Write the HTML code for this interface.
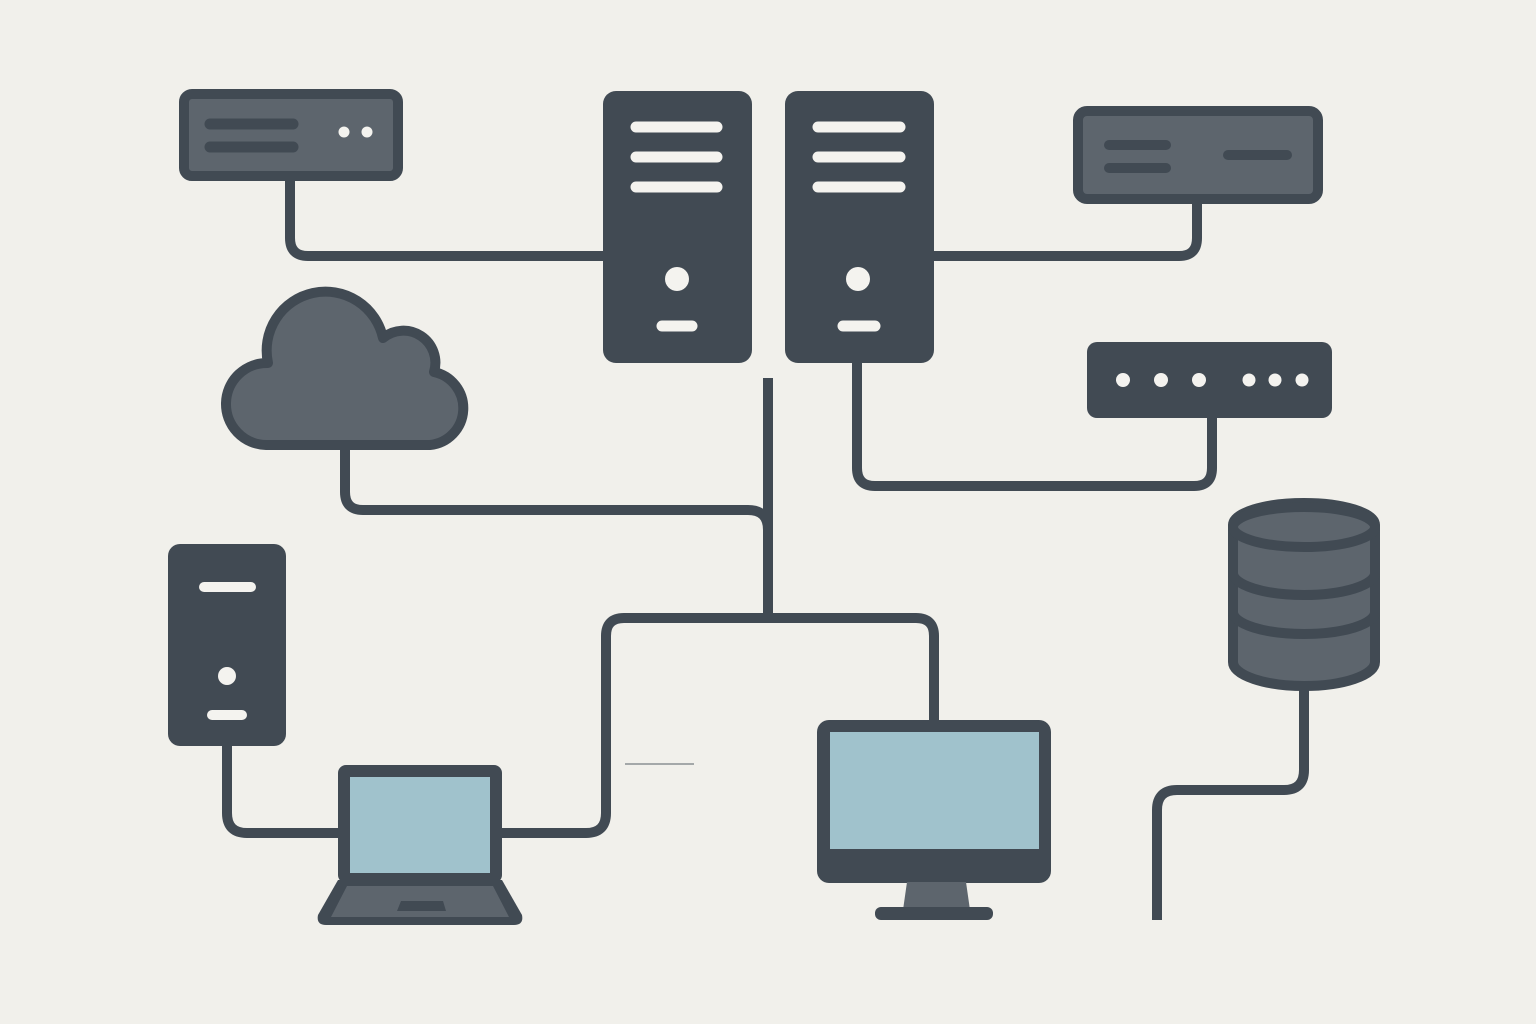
<!DOCTYPE html>
<html><head><meta charset="utf-8"><style>html,body{margin:0;padding:0;background:#f1f0eb}svg{display:block}</style></head>
<body>
<svg width="1536" height="1024" viewBox="0 0 1536 1024" xmlns="http://www.w3.org/2000/svg">
<rect width="1536" height="1024" fill="#f1f0eb"/>
<g fill="none" stroke="#414a53" stroke-width="10" stroke-linecap="butt">
  <path d="M290,180 V238 Q290,256 308,256 H604"/>
  <path d="M934,256 H1179 Q1197,256 1197,238 V200"/>
  <path d="M857,363 V468 Q857,486 875,486 H1194 Q1212,486 1212,468 V418"/>
  <path d="M345,445 V492 Q345,510 363,510 H748 Q768,510 768,530"/>
  <path d="M768,378 V618"/>
  <path d="M606,812 V636 Q606,618 624,618 H916 Q934,618 934,636 V722"/>
  <path d="M227,746 V813 Q227,833 247,833 H340"/>
  <path d="M500,833 H586 Q606,833 606,813 V800"/>
  <path d="M1304,686 V770 Q1304,790 1284,790 H1177 Q1157,790 1157,810 V920"/>
</g>
<line x1="625" y1="764" x2="694" y2="764" stroke="#8a8f93" stroke-width="1.5"/>
<rect x="184" y="94" width="214" height="82" rx="8" fill="#5d656d" stroke="#414a53" stroke-width="10"/>
<g stroke="#414a53" stroke-width="11" stroke-linecap="round"><line x1="210" y1="124" x2="293" y2="124"/><line x1="210" y1="147" x2="293" y2="147"/></g>
<circle cx="344" cy="132" r="5.5" fill="#f4f3ef"/><circle cx="367" cy="132" r="5.5" fill="#f4f3ef"/>
<rect x="603" y="91" width="149" height="272" rx="13" fill="#414a53"/>
<g stroke="#f4f3ef" stroke-width="11" stroke-linecap="round"><line x1="636" y1="127" x2="717" y2="127"/><line x1="636" y1="157" x2="717" y2="157"/><line x1="636" y1="187" x2="717" y2="187"/><line x1="662" y1="326" x2="692" y2="326"/></g>
<circle cx="677" cy="279" r="12" fill="#f4f3ef"/>
<rect x="785" y="91" width="149" height="272" rx="13" fill="#414a53"/>
<g stroke="#f4f3ef" stroke-width="11" stroke-linecap="round"><line x1="818" y1="127" x2="900" y2="127"/><line x1="818" y1="157" x2="900" y2="157"/><line x1="818" y1="187" x2="900" y2="187"/><line x1="843" y1="326" x2="875" y2="326"/></g>
<circle cx="858" cy="279" r="12" fill="#f4f3ef"/>
<rect x="1078" y="111" width="240" height="88" rx="9" fill="#5d656d" stroke="#414a53" stroke-width="10"/>
<g stroke="#414a53" stroke-width="10" stroke-linecap="round"><line x1="1109" y1="145" x2="1166" y2="145"/><line x1="1109" y1="168" x2="1166" y2="168"/><line x1="1228" y1="155" x2="1287" y2="155"/></g>
<rect x="1087" y="342" width="245" height="76" rx="10" fill="#414a53"/>
<g fill="#f4f3ef"><circle cx="1123" cy="380" r="7"/><circle cx="1161" cy="380" r="7"/><circle cx="1199" cy="380" r="7"/><circle cx="1249" cy="380" r="6.5"/><circle cx="1275" cy="380" r="6.5"/><circle cx="1302" cy="380" r="6.5"/></g>
<!-- cloud -->
<path d="M266,445 A41,41 0 0 1 268,363 A57,57 0 0 1 383,338 A32,32 0 0 1 434,372 A37,37 0 0 1 430,445 Z" fill="#5d656d" stroke="#414a53" stroke-width="10" stroke-linejoin="round"/>
<rect x="168" y="544" width="118" height="202" rx="12" fill="#414a53"/>
<g stroke="#f4f3ef" stroke-width="10" stroke-linecap="round"><line x1="204" y1="587" x2="251" y2="587"/><line x1="212" y1="715" x2="242" y2="715"/></g>
<circle cx="227" cy="676" r="9" fill="#f4f3ef"/>
<rect x="338" y="765" width="164" height="118" rx="8" fill="#414a53"/>
<rect x="350" y="777" width="140" height="96" fill="#a0c2cc"/>
<path d="M338,880 H502 L522,915 Q524,925 514,925 H326 Q316,925 318,915 Z" fill="#414a53"/>
<path d="M347,886 H493 L509,917 H331 Z" fill="#5d656d"/>
<path d="M401,901 H443 L446,911 H397 Z" fill="#414a53"/>
<rect x="817" y="720" width="234" height="163" rx="12" fill="#414a53"/>
<rect x="830" y="732" width="209" height="117" fill="#a0c2cc"/>
<path d="M907,882 H966 L970,910 H903 Z" fill="#5d656d"/>
<rect x="875" y="907" width="118" height="13" rx="6" fill="#414a53"/>
<path d="M1233,525 A71,22 0 0 1 1375,525 V662 A71,24 0 0 1 1233,662 Z" fill="#5d656d" stroke="#414a53" stroke-width="10"/>
<g fill="none" stroke="#414a53" stroke-width="10">
<ellipse cx="1304" cy="527" rx="71" ry="20"/>
<path d="M1233,573 A71,22 0 0 0 1375,573"/>
<path d="M1233,612 A71,22 0 0 0 1375,612"/>
</g>
</svg>
</body></html>
